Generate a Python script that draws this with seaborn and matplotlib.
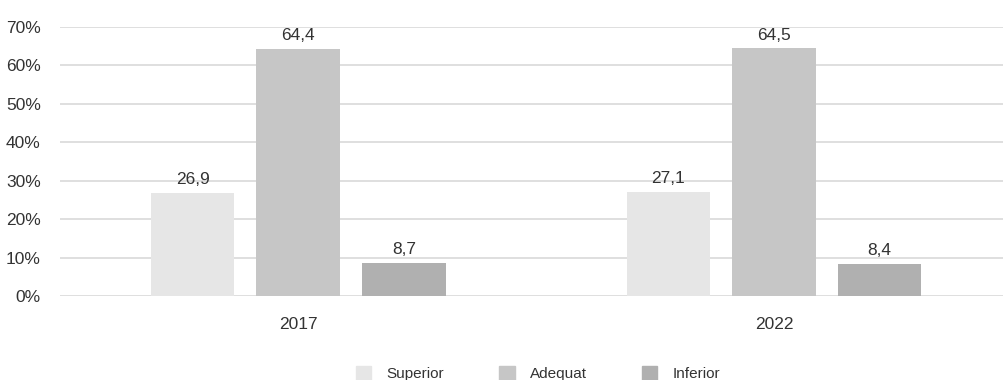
import pandas as pd
import matplotlib.pyplot as plt
import seaborn as sns

# Data
years = ["2017", "2022"]
categories = ["Superior", "Adequat", "Inferior"]
superior = [26.9, 27.1]
adequat = [64.4, 64.5]
inferior = [8.7, 8.4]
colors = ["#e6e6e6", "#c6c6c6", "#b0b0b0"]

df = pd.DataFrame({
    "year": years * 3,
    "cat": [c for c in categories for _ in years],
    "value": superior + adequat + inferior,
})

sns.set_style("white")
plt.rcParams["font.family"] = ["Liberation Sans", "DejaVu Sans"]
text_col = "#333333"
fs = 12.5

fig = plt.figure(figsize=(10.04, 3.8), dpi=100)
ax = fig.add_axes([0.06, 0.221, 0.948, 0.708])

sns.barplot(data=df, x="year", y="value", hue="cat", hue_order=categories,
            palette=colors, width=0.666, gap=0.21, ax=ax, legend=False,
            edgecolor="none", saturation=1)

for cont in ax.containers:
    ax.bar_label(cont, labels=[f"{v:.1f}".replace(".", ",") for v in cont.datavalues],
                 padding=4, fontsize=fs, color=text_col)

ax.set_ylim(0, 70)
ax.set_xlim(-0.5, 1.5)
ax.set_yticks(range(0, 80, 10))
ax.set_yticklabels([f"{t}%" for t in range(0, 80, 10)])
ax.yaxis.grid(True, color="#d9d9d9", linewidth=1.2)
ax.set_axisbelow(True)
for s in ax.spines.values():
    s.set_visible(False)
ax.tick_params(axis="y", length=0, pad=14, labelsize=fs, labelcolor=text_col)
ax.tick_params(axis="x", length=0, pad=15, labelsize=fs, labelcolor=text_col)
ax.set_xlabel("")
ax.set_ylabel("")

handles = [plt.Rectangle((0, 0), 1, 1, color=c) for c in colors]
fig.legend(handles, categories, loc="lower center", bbox_to_anchor=(0.536, -0.04),
           ncol=3, frameon=False, handlelength=1.0, handleheight=1.0,
           columnspacing=3.6, handletextpad=1.0, fontsize=11,
           labelcolor=text_col)

fig.savefig("out.png", dpi=100)
